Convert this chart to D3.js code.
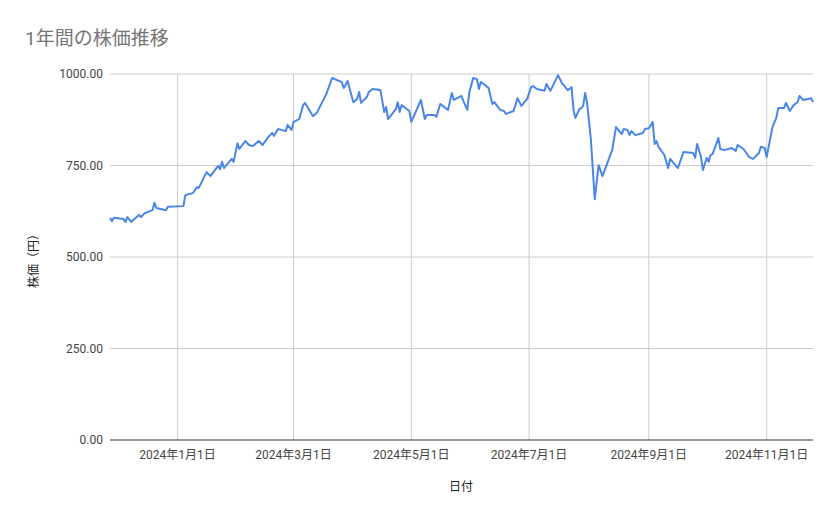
<!DOCTYPE html>
<html><head><meta charset="utf-8">
<script src="https://cdn.jsdelivr.net/npm/d3@7"></script>
<style>body{margin:0;background:#fff;font-family:Roboto,"Noto Sans CJK JP",sans-serif}</style>
</head><body><svg id="chart" width="839" height="519"></svg>
<script>
// days from 2024-01-01, and closing price
const dayOffsets = [-35,-34,-33,-28,-27,-26,-24,-20,-19,-17,-13,-12,-11,-6,-5,3,4,8,10,11,15,17,21,22,23,24,28,29,31,32,35,37,39,42,44,47,49,50,52,56,57,59,60,63,65,66,70,72,77,80,85,86,87,88,91,93,94,95,98,99,101,105,107,108,109,113,114,115,116,120,121,126,128,129,133,134,136,140,142,143,147,148,150,151,153,155,156,157,161,163,164,167,169,170,174,176,178,181,183,184,186,190,191,193,197,199,202,204,205,206,208,209,210,211,212,214,216,218,220,225,227,230,231,233,234,235,237,241,242,244,246,247,248,249,252,254,255,259,262,267,268,269,271,272,274,275,276,277,280,281,283,287,289,290,293,296,298,301,302,304,305,308,310,311,314,315,317,319,321,322,324,328,329];
const prices = [607,598,607,604,596,609,596,615,609,620,628,648,634,628,637,639,669,675,691,689,732,721,749,740,760,743,768,760,811,795,817,806,803,817,806,828,839,831,850,844,861,847,869,877,915,921,885,893,945,989,978,962,970,981,923,932,951,921,937,951,959,956,896,910,877,904,923,896,915,899,869,929,877,888,888,883,918,902,948,929,940,926,902,948,989,986,959,978,962,918,923,902,899,891,899,934,913,932,964,967,959,954,973,954,997,975,956,964,902,880,904,907,913,948,923,820,658,751,721,792,855,836,850,847,833,844,833,839,850,852,869,809,817,801,779,743,768,743,787,784,771,809,773,738,771,760,779,781,825,795,792,798,790,806,795,773,768,784,801,798,773,855,880,907,907,921,899,915,923,940,929,934,923];
const yTicks = [0,250,500,750,1000];
const xTickDates = ["2024-01-01","2024-03-01","2024-05-01","2024-07-01","2024-09-01","2024-11-01"];

const base = new Date(2024,0,1);
const data = dayOffsets.map((d,i)=>({date:d3.timeDay.offset(base,d), v:prices[i]}));

const svg = d3.select("#chart");
const m = {l:110, r:813, t:74, b:440};
const x = d3.scaleTime().domain([d3.timeDay.offset(base,-34.7), d3.timeDay.offset(base,329.4)]).range([m.l,m.r]);
const y = d3.scaleLinear().domain([0,1000]).range([m.b,m.t]);
const parse = d3.timeParse("%Y-%m-%d");
const xt = xTickDates.map(parse);

// grid
svg.append("g").selectAll("line").data(yTicks.filter(t=>t>0)).join("line")
  .attr("x1",m.l).attr("x2",m.r).attr("y1",d=>y(d)).attr("y2",d=>y(d))
  .attr("stroke","#cccccc");
svg.append("g").selectAll("line").data(xt).join("line")
  .attr("x1",d=>x(d)).attr("x2",d=>x(d)).attr("y1",m.t).attr("y2",m.b)
  .attr("stroke","#cccccc");
svg.append("line").attr("x1",m.l).attr("x2",m.r).attr("y1",y(0)).attr("y2",y(0)).attr("stroke","#333");

// tick labels
svg.append("g").selectAll("text").data(yTicks).join("text")
  .attr("x",103).attr("y",d=>y(d)+4).attr("text-anchor","end")
  .attr("font-size",12).attr("fill","#444").text(d=>d3.format(".2f")(d));
svg.append("g").selectAll("text").data(xt).join("text")
  .attr("x",d=>x(d)).attr("y",459).attr("text-anchor","middle")
  .attr("font-size",12).attr("fill","#444")
  .text(d=>`${d.getFullYear()}年${d.getMonth()+1}月${d.getDate()}日`);

// line
svg.append("path").datum(data)
  .attr("fill","none").attr("stroke","#4a86e8").attr("stroke-width",2).attr("stroke-linejoin","round")
  .attr("d",d3.line().x(d=>x(d.date)).y(d=>y(d.v)));

// titles
svg.append("text").attr("x",25).attr("y",45).attr("font-size",19).attr("fill","#757575")
  .text("1年間の株価推移");
svg.append("text").attr("x",461).attr("y",491).attr("text-anchor","middle").attr("font-size",12).attr("fill","#222").text("日付");
svg.append("text").attr("transform","translate(38,258) rotate(-90)").attr("text-anchor","middle")
  .attr("font-size",12).attr("fill","#222").text("株価（円）");
</script></body></html>
